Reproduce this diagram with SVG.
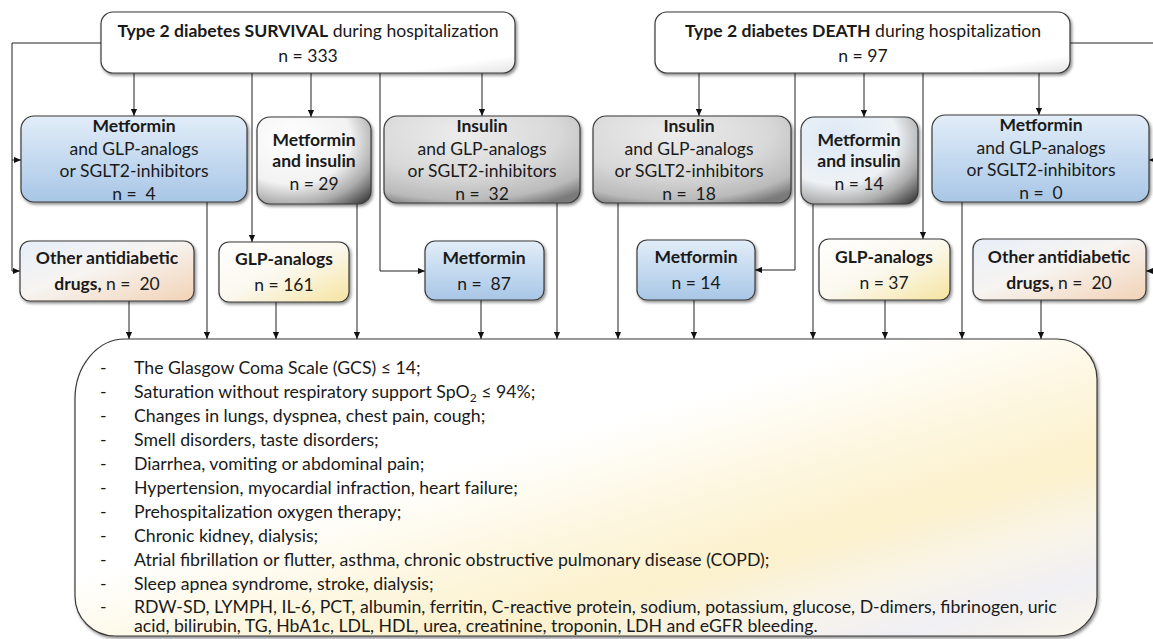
<svg xmlns="http://www.w3.org/2000/svg" width="1153" height="639" viewBox="0 0 1153 639">
<defs>
<style>
text{font-family:Lato,"Liberation Sans",sans-serif;fill:#1a1a1a;font-size:17.5px}
.t{font-size:17.6px}
.b{font-weight:bold}
.box{stroke:#3a3a3a;stroke-width:1.2}
.ln{fill:none;stroke:#222;stroke-width:1}
.big text{font-size:17.7px}
</style>
<marker id="ah" viewBox="0 0 8 8" refX="8" refY="4" markerWidth="7" markerHeight="7" markerUnits="userSpaceOnUse" orient="auto">
<path d="M0,0.5 L8,4 L0,7.5 Z" fill="#111"/>
</marker>
<filter id="sh" x="-10%" y="-10%" width="125%" height="130%">
<feDropShadow dx="1.5" dy="2" stdDeviation="1.5" flood-color="#000" flood-opacity="0.45"/>
</filter>
<linearGradient id="gBlue" x1="0" y1="0" x2="0" y2="1">
<stop offset="0" stop-color="#e2edf8"/><stop offset="0.5" stop-color="#c5daf0"/><stop offset="1" stop-color="#a8c6e6"/>
</linearGradient>
<radialGradient id="gWG" cx="0.3" cy="0.25" r="0.95">
<stop offset="0" stop-color="#ffffff"/><stop offset="0.55" stop-color="#f2f2f2"/><stop offset="0.8" stop-color="#ababab"/><stop offset="1" stop-color="#4c4c4c"/>
</radialGradient>
<radialGradient id="gBG" cx="0.3" cy="0.25" r="0.95">
<stop offset="0" stop-color="#dde9f6"/><stop offset="0.55" stop-color="#eef2f6"/><stop offset="0.8" stop-color="#ababab"/><stop offset="1" stop-color="#4c4c4c"/>
</radialGradient>
<radialGradient id="gGray" cx="0.4" cy="0.2" r="0.9">
<stop offset="0" stop-color="#ececec"/><stop offset="0.55" stop-color="#d8d8d8"/><stop offset="0.85" stop-color="#bababa"/><stop offset="1" stop-color="#7a7a7a"/>
</radialGradient>
<linearGradient id="gOther" x1="0" y1="0" x2="1" y2="1">
<stop offset="0" stop-color="#e6eef9"/><stop offset="0.45" stop-color="#f7f4f1"/><stop offset="1" stop-color="#f2d2b6"/>
</linearGradient>
<linearGradient id="gGLP" x1="0" y1="0" x2="1" y2="1">
<stop offset="0" stop-color="#ffffff"/><stop offset="0.5" stop-color="#fbf8ee"/><stop offset="1" stop-color="#f6e4a0"/>
</linearGradient>
<linearGradient id="gTop" x1="0" y1="0" x2="1" y2="1">
<stop offset="0" stop-color="#ffffff"/><stop offset="0.85" stop-color="#ffffff"/><stop offset="1" stop-color="#e4e4e4"/>
</linearGradient>
<linearGradient id="gBig" x1="0" y1="0" x2="1" y2="1">
<stop offset="0" stop-color="#ffffff"/><stop offset="0.4" stop-color="#ffffff"/><stop offset="0.58" stop-color="#fdf6de"/><stop offset="0.7" stop-color="#fcf1cc"/><stop offset="0.82" stop-color="#f8f4ea"/><stop offset="0.9" stop-color="#f0eff3"/><stop offset="1" stop-color="#fbf7ea"/>
</linearGradient>
</defs>

<g id="connectors">
<path class="ln" d="M101,43 H12 V271 H20" marker-end="url(#ah)"/>
<path class="ln" d="M12,160 H21" marker-end="url(#ah)"/>
<path class="ln" d="M1070,43 H1160 V271"/>
<path class="ln" d="M1160,160 H1149" marker-end="url(#ah)"/>
<path class="ln" d="M1160,271 H1146" marker-end="url(#ah)"/>
<path class="ln" d="M134,73 V116" marker-end="url(#ah)"/>
<path class="ln" d="M252,73 V242" marker-end="url(#ah)"/>
<path class="ln" d="M311,73 V117" marker-end="url(#ah)"/>
<path class="ln" d="M380,73 V271 H425" marker-end="url(#ah)"/>
<path class="ln" d="M482,73 V116" marker-end="url(#ah)"/>
<path class="ln" d="M699,73 V116" marker-end="url(#ah)"/>
<path class="ln" d="M795,73 V270 H755" marker-end="url(#ah)"/>
<path class="ln" d="M864,73 V117" marker-end="url(#ah)"/>
<path class="ln" d="M923,73 V239" marker-end="url(#ah)"/>
<path class="ln" d="M1039,73 V115" marker-end="url(#ah)"/>
<path class="ln" d="M207,202 V339" marker-end="url(#ah)"/>
<path class="ln" d="M357,204 V339" marker-end="url(#ah)"/>
<path class="ln" d="M557,203 V339" marker-end="url(#ah)"/>
<path class="ln" d="M618,203 V339" marker-end="url(#ah)"/>
<path class="ln" d="M813,204 V339" marker-end="url(#ah)"/>
<path class="ln" d="M962,202 V339" marker-end="url(#ah)"/>
<path class="ln" d="M129,301 V339" marker-end="url(#ah)"/>
<path class="ln" d="M276,302 V339" marker-end="url(#ah)"/>
<path class="ln" d="M481,300 V339" marker-end="url(#ah)"/>
<path class="ln" d="M694,300 V339" marker-end="url(#ah)"/>
<path class="ln" d="M885,300 V339" marker-end="url(#ah)"/>
<path class="ln" d="M1041,300 V339" marker-end="url(#ah)"/>
</g>

<g id="survival">
<rect class="box" x="101" y="12" width="414" height="61" rx="12" fill="url(#gTop)" filter="url(#sh)"/>
<text class="t" x="308" y="37" text-anchor="middle"><tspan class="b">Type 2 diabetes SURVIVAL</tspan> during hospitalization</text>
<text class="t" x="308" y="62" text-anchor="middle">n = 333</text>
</g>

<g id="death">
<rect class="box" x="655" y="12" width="415" height="61" rx="12" fill="url(#gTop)" filter="url(#sh)"/>
<text class="t" x="863" y="37" text-anchor="middle"><tspan class="b">Type 2 diabetes DEATH</tspan> during hospitalization</text>
<text class="t" x="863" y="62" text-anchor="middle">n = 97</text>
</g>

<g id="s-met-glp">
<rect class="box" x="21" y="116" width="226" height="86" rx="13" fill="url(#gBlue)" filter="url(#sh)"/>
<text x="134" y="132" text-anchor="middle" class="b">Metformin</text>
<text x="134" y="155" text-anchor="middle">and GLP-analogs</text>
<text x="134" y="177" text-anchor="middle">or SGLT2-inhibitors</text>
<text x="134" y="200" text-anchor="middle" xml:space="preserve">n =  4</text>
</g>

<g id="s-met-ins">
<rect class="box" x="257" y="117" width="114" height="87" rx="13" fill="url(#gWG)" filter="url(#sh)"/>
<text x="314" y="146" text-anchor="middle" class="b">Metformin</text>
<text x="314" y="167" text-anchor="middle" class="b">and insulin</text>
<text x="314" y="190" text-anchor="middle">n = 29</text>
</g>

<g id="s-ins-glp">
<rect class="box" x="384" y="116" width="196" height="87" rx="13" fill="url(#gGray)" filter="url(#sh)"/>
<text x="482" y="132" text-anchor="middle" class="b">Insulin</text>
<text x="482" y="155" text-anchor="middle">and GLP-analogs</text>
<text x="482" y="177" text-anchor="middle">or SGLT2-inhibitors</text>
<text x="482" y="200" text-anchor="middle" xml:space="preserve">n =  32</text>
</g>

<g id="d-ins-glp">
<rect class="box" x="593" y="116" width="198" height="87" rx="13" fill="url(#gGray)" filter="url(#sh)"/>
<text x="689" y="132" text-anchor="middle" class="b">Insulin</text>
<text x="689" y="155" text-anchor="middle">and GLP-analogs</text>
<text x="689" y="177" text-anchor="middle">or SGLT2-inhibitors</text>
<text x="689" y="200" text-anchor="middle" xml:space="preserve">n =  18</text>
</g>

<g id="d-met-ins">
<rect class="box" x="801" y="117" width="117" height="87" rx="13" fill="url(#gBG)" filter="url(#sh)"/>
<text x="859" y="146" text-anchor="middle" class="b">Metformin</text>
<text x="859" y="167" text-anchor="middle" class="b">and insulin</text>
<text x="859" y="190" text-anchor="middle">n = 14</text>
</g>

<g id="d-met-glp">
<rect class="box" x="932" y="115" width="217" height="87" rx="13" fill="url(#gBlue)" filter="url(#sh)"/>
<text x="1041" y="131" text-anchor="middle" class="b">Metformin</text>
<text x="1041" y="154" text-anchor="middle">and GLP-analogs</text>
<text x="1041" y="176" text-anchor="middle">or SGLT2-inhibitors</text>
<text x="1041" y="199" text-anchor="middle" xml:space="preserve">n =  0</text>
</g>

<g id="s-other">
<rect class="box" x="20" y="241" width="174" height="60" rx="10" fill="url(#gOther)" filter="url(#sh)"/>
<text x="107" y="264" text-anchor="middle" class="b">Other antidiabetic</text>
<text x="107" y="290" text-anchor="middle" xml:space="preserve"><tspan class="b">drugs,</tspan> n =  20</text>
</g>

<g id="s-glp">
<rect class="box" x="219" y="242" width="130" height="60" rx="10" fill="url(#gGLP)" filter="url(#sh)"/>
<text x="284" y="265" text-anchor="middle" class="b">GLP-analogs</text>
<text x="284" y="291" text-anchor="middle">n = 161</text>
</g>

<g id="s-met">
<rect class="box" x="425" y="241" width="119" height="59" rx="10" fill="url(#gBlue)" filter="url(#sh)"/>
<text x="484" y="264" text-anchor="middle" class="b">Metformin</text>
<text x="484" y="290" text-anchor="middle" xml:space="preserve">n =  87</text>
</g>

<g id="d-met">
<rect class="box" x="637" y="240" width="118" height="60" rx="10" fill="url(#gBlue)" filter="url(#sh)"/>
<text x="696" y="263" text-anchor="middle" class="b">Metformin</text>
<text x="696" y="289" text-anchor="middle">n = 14</text>
</g>

<g id="d-glp">
<rect class="box" x="819" y="239" width="131" height="61" rx="10" fill="url(#gGLP)" filter="url(#sh)"/>
<text x="884" y="263" text-anchor="middle" class="b">GLP-analogs</text>
<text x="884" y="289" text-anchor="middle">n = 37</text>
</g>

<g id="d-other">
<rect class="box" x="973" y="239" width="173" height="61" rx="10" fill="url(#gOther)" filter="url(#sh)"/>
<text x="1059" y="263" text-anchor="middle" class="b">Other antidiabetic</text>
<text x="1059" y="289" text-anchor="middle" xml:space="preserve"><tspan class="b">drugs,</tspan> n =  20</text>
</g>

<g id="outcomes">
<path class="box" d="M125,339 H1057 A40,40 0 0 1 1097,379 V597 A40,40 0 0 1 1057,636 H115 A40,40 0 0 1 75,596 V399 A50,60 0 0 1 125,339 Z" fill="url(#gBig)" filter="url(#sh)"/>
<g class="big">
<text x="100" y="374">-</text><text x="134" y="374">The Glasgow Coma Scale (GCS) ≤ 14;</text>
<text x="100" y="398">-</text><text x="134" y="398">Saturation without respiratory support SpO<tspan font-size="12" dy="4">2</tspan><tspan dy="-4"> ≤ 94%;</tspan></text>
<text x="100" y="422">-</text><text x="134" y="422">Changes in lungs, dyspnea, chest pain, cough;</text>
<text x="100" y="446">-</text><text x="134" y="446">Smell disorders, taste disorders;</text>
<text x="100" y="470">-</text><text x="134" y="470">Diarrhea, vomiting or abdominal pain;</text>
<text x="100" y="494">-</text><text x="134" y="494">Hypertension, myocardial infraction, heart failure;</text>
<text x="100" y="518">-</text><text x="134" y="518">Prehospitalization oxygen therapy;</text>
<text x="100" y="542">-</text><text x="134" y="542">Chronic kidney, dialysis;</text>
<text x="100" y="566">-</text><text x="134" y="566">Atrial fibrillation or flutter, asthma, chronic obstructive pulmonary disease (COPD);</text>
<text x="100" y="590">-</text><text x="134" y="590">Sleep apnea syndrome, stroke, dialysis;</text>
<text x="100" y="613">-</text><text x="134" y="613">RDW-SD, LYMPH, IL-6, PCT, albumin, ferritin, C-reactive protein, sodium, potassium, glucose, D-dimers, fibrinogen, uric</text>
<text x="134" y="632">acid, bilirubin, TG, HbA1c, LDL, HDL, urea, creatinine, troponin, LDH and eGFR bleeding.</text>
</g>
</g>
</svg>
